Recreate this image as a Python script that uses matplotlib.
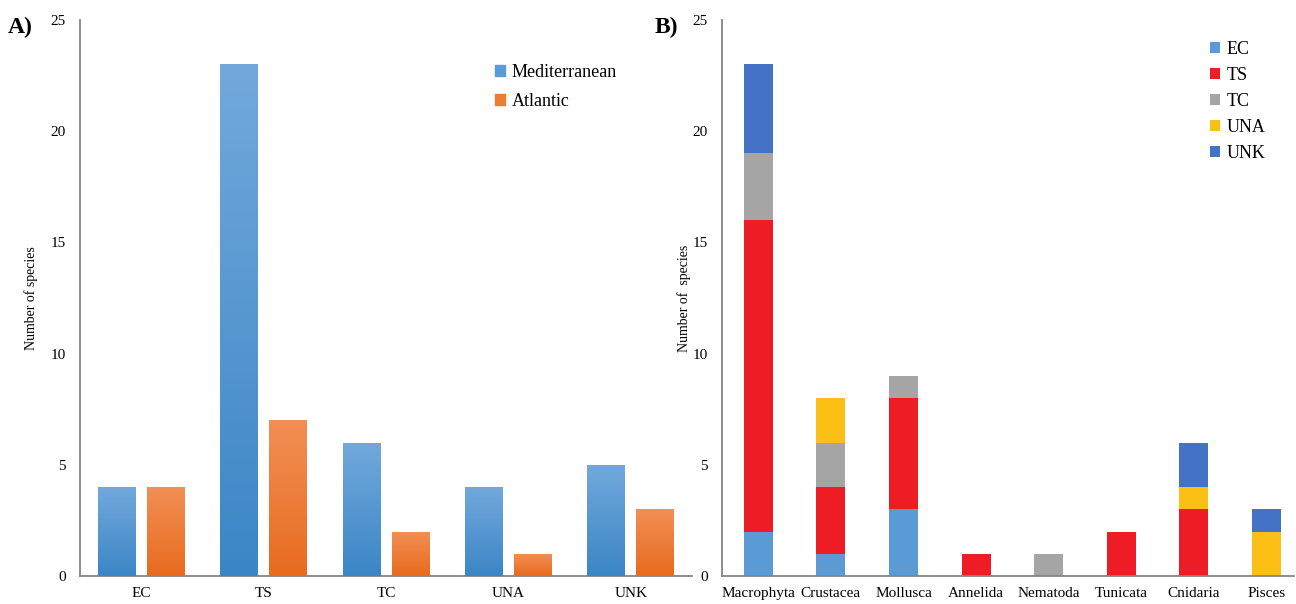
import numpy as np
import matplotlib.pyplot as plt
from matplotlib.colors import LinearSegmentedColormap

plt.rcParams['font.family'] = ['Liberation Serif', 'DejaVu Serif']

# Panel A data
groups_a = ['EC', 'TS', 'TC', 'UNA', 'UNK']
mediterranean = [4, 23, 6, 4, 5]
atlantic = [4, 7, 2, 1, 3]

# Panel B data
taxa = ['Macrophyta', 'Crustacea', 'Mollusca', 'Annelida', 'Nematoda',
        'Tunicata', 'Cnidaria', 'Pisces']
ec = [2, 1, 3, 0, 0, 0, 0, 0]
ts = [14, 3, 5, 1, 0, 2, 3, 0]
tc = [3, 2, 1, 0, 1, 0, 0, 0]
una = [0, 2, 0, 0, 0, 0, 1, 2]
unk = [4, 0, 0, 0, 0, 0, 2, 1]


def _gradient_bars(ax, rects, top_color, bottom_color):
    """Paint a vertical gradient inside each bar (light top, dark bottom)."""
    cmap = LinearSegmentedColormap.from_list('g', [bottom_color, top_color])
    grad = np.linspace(0, 1, 256).reshape(-1, 1)
    for r in rects:
        x0, w, h = r.get_x(), r.get_width(), r.get_height()
        if h == 0:
            continue
        im = ax.imshow(grad, cmap=cmap, aspect='auto', origin='lower',
                       extent=(x0, x0 + w, 0, h), zorder=3)
        im.set_clip_path(r)
        r.set_facecolor('none')


def _style(ax):
    for s in ('top', 'right'):
        ax.spines[s].set_visible(False)
    for s in ('left', 'bottom'):
        ax.spines[s].set_color('#858585')
        ax.spines[s].set_linewidth(1.3)
    ax.tick_params(axis='both', length=0, labelsize=11)
    ax.tick_params(axis='y', pad=10)
    ax.tick_params(axis='x', pad=8)
    ax.set_ylim(0, 25)
    ax.set_yticks([0, 5, 10, 15, 20, 25])


fig = plt.figure(figsize=(12.96, 6.04), dpi=100)

# ---- Panel A
ax1 = fig.add_axes([80 / 1296, 28 / 604, 612 / 1296, 556 / 604])
x = np.arange(len(groups_a))
r1 = ax1.bar(x - 0.2, mediterranean, 0.31, color='#5b9bd5', label='Mediterranean', zorder=2)
r2 = ax1.bar(x + 0.2, atlantic, 0.31, color='#ed7d31', label='Atlantic', zorder=2)
ax1.set_xlim(-0.5, len(groups_a) - 0.5)
_gradient_bars(ax1, r1, '#72a9dc', '#3b86c6')
_gradient_bars(ax1, r2, '#f28f55', '#e86b1e')
_style(ax1)
ax1.set_xticks(x)
ax1.set_xticklabels(groups_a)
ax1.set_ylabel('Number of species', fontsize=10, labelpad=9)
h1 = [plt.Rectangle((0, 0), 1, 1, color='#5b9bd5'), plt.Rectangle((0, 0), 1, 1, color='#ed7d31')]
ax1.legend(h1, ['Mediterranean', 'Atlantic'], loc='upper left', bbox_to_anchor=(0.652, 0.95),
           frameon=False, fontsize=13, handlelength=0.55, handleheight=0.55,
           handletextpad=0.35, labelspacing=0.65)
fig.text(8 / 1296, 1 - 27 / 604, 'A)', fontsize=17, fontweight='bold', va='center')

# ---- Panel B
ax2 = fig.add_axes([722 / 1296, 28 / 604, 572 / 1296, 556 / 604])
xb = np.arange(len(taxa))
colors_b = ['#5b9bd5', '#ee1c25', '#a5a5a5', '#fbbf16', '#4472c4']
names_b = ['EC', 'TS', 'TC', 'UNA', 'UNK']
bottom = np.zeros(len(taxa))
for vals, col, nm in zip([ec, ts, tc, una, unk], colors_b, names_b):
    ax2.bar(xb, vals, 0.4, bottom=bottom, color=col, label=nm, zorder=2)
    bottom += np.array(vals)
ax2.set_xlim(-0.5, -0.5 + 572 / 72.6)
_style(ax2)
ax2.set_xticks(xb)
ax2.set_xticklabels(taxa)
ax2.set_ylabel('Number of  species', fontsize=10, labelpad=1)
ax2.legend(loc='upper left', bbox_to_anchor=(0.825, 0.992), frameon=False, fontsize=13,
           handlelength=0.55, handleheight=0.55, handletextpad=0.35, labelspacing=0.5)
fig.text(655 / 1296, 1 - 27 / 604, 'B)', fontsize=17, fontweight='bold', va='center')

fig.savefig('out.png', dpi=100)
